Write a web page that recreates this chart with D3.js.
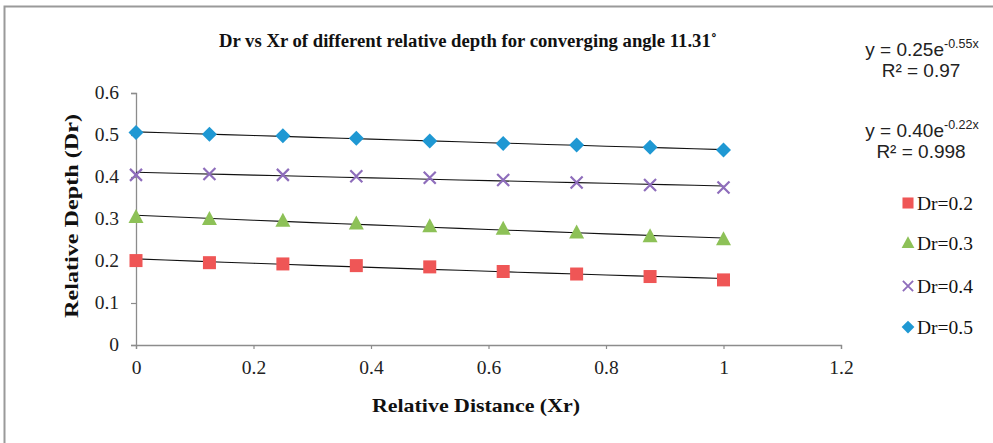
<!DOCTYPE html>
<html><head><meta charset="utf-8">
<script src="https://cdn.jsdelivr.net/npm/d3@7"></script>
<style>body{margin:0;background:#fff}svg{display:block}</style>
</head><body>
<script>
const xr = [0, 0.125, 0.25, 0.375, 0.5, 0.625, 0.75, 0.875, 1];
const dr02 = [0.201, 0.196, 0.193, 0.189, 0.186, 0.175, 0.169, 0.163, 0.155];
const dr03 = [0.305, 0.300, 0.296, 0.289, 0.283, 0.277, 0.268, 0.259, 0.252];
const dr04 = [0.405, 0.407, 0.405, 0.402, 0.398, 0.393, 0.387, 0.381, 0.375];
const dr05 = [0.506, 0.502, 0.498, 0.492, 0.486, 0.480, 0.476, 0.471, 0.464];
const seriesNames = ["Dr=0.2", "Dr=0.3", "Dr=0.4", "Dr=0.5"];
const xTicks = [0, 0.2, 0.4, 0.6, 0.8, 1, 1.2];
const yTicks = [0, 0.1, 0.2, 0.3, 0.4, 0.5, 0.6];
const eqLabels = [["0.25", "-0.55x", "0.97"], ["0.40", "-0.22x", "0.998"]];

const W = 993, H = 443;
const svg = d3.select("body").append("svg").attr("width", W).attr("height", H);
svg.append("rect").attr("x", 4.5).attr("y", 6.5).attr("width", W + 10).attr("height", H + 10)
  .attr("fill", "#fff").attr("stroke", "#9a9a9a").attr("stroke-width", 2);

const x = d3.scaleLinear().domain([0, 1.2]).range([136, 841]);
const y = d3.scaleLinear().domain([0, 0.6]).range([345, 93]);
const serif = "'Liberation Serif','Times New Roman',serif";
const sans = "'Liberation Sans',Arial,sans-serif";

// axes
const xAxis = svg.append("g").attr("transform", `translate(0,${y(0)})`)
  .call(d3.axisBottom(x).tickValues(xTicks).tickSize(4).tickFormat(d3.format("")));
const yAxis = svg.append("g").attr("transform", `translate(${x(0)},0)`)
  .call(d3.axisLeft(y).tickValues(yTicks).tickSize(5).tickFormat(d3.format("")));
[xAxis, yAxis].forEach(g => {
  g.select(".domain").attr("stroke", "#8c8c8c").attr("stroke-width", 1.3);
  g.selectAll(".tick line").attr("stroke", "#8c8c8c").attr("stroke-width", 1.2);
  g.selectAll(".tick text").attr("font-family", serif).attr("font-size", 19.5).attr("fill", "#222");
});
xAxis.selectAll(".tick text").attr("dy", "1.15em");
yAxis.selectAll(".tick text").attr("x", -17).attr("dy", "0.3em");

const series = [
  {name: seriesNames[0], vals: dr02, color: "#EF5656", shape: "square"},
  {name: seriesNames[1], vals: dr03, color: "#8DC157", shape: "triangle"},
  {name: seriesNames[2], vals: dr04, color: "#8E6DBB", shape: "x"},
  {name: seriesNames[3], vals: dr05, color: "#1F98D3", shape: "diamond"}
];

function drawMarker(g, shape, color) {
  if (shape === "square") g.append("rect").attr("x", -6.5).attr("y", -6.5).attr("width", 13).attr("height", 13).attr("fill", color);
  else if (shape === "triangle") g.append("path").attr("d", "M0,-8 L7.5,6 L-7.5,6 Z").attr("fill", color);
  else if (shape === "diamond") g.append("path").attr("d", "M0,-7.5 L7.5,0 L0,7.5 L-7.5,0 Z").attr("fill", color);
  else g.append("path").attr("d", "M-6,-6 L6,6 M-6,6 L6,-6").attr("stroke", color).attr("stroke-width", 2.2).attr("fill", "none");
}

// exponential trendline fit (least squares in log space)
function expFit(xs, ys) {
  const ly = ys.map(Math.log);
  const mx = d3.mean(xs), my = d3.mean(ly);
  let num = 0, den = 0;
  xs.forEach((xi, i) => { num += (xi - mx) * (ly[i] - my); den += (xi - mx) ** 2; });
  const b = num / den, a = Math.exp(my - b * mx);
  return t => a * Math.exp(b * t);
}

series.forEach(s => {
  const f = expFit(xr, s.vals);
  const pts = d3.range(0, 1.0001, 0.05).map(t => [t, f(t)]);
  svg.append("path").datum(pts)
    .attr("d", d3.line().x(d => x(d[0])).y(d => y(d[1])))
    .attr("fill", "none").attr("stroke", "#111").attr("stroke-width", 1.1);
});
series.forEach(s => {
  s.vals.forEach((v, i) => {
    const g = svg.append("g").attr("transform", `translate(${x(xr[i])},${y(v)})`);
    drawMarker(g, s.shape, s.color);
  });
});

// title
svg.append("text").attr("x", 468).attr("y", 47).attr("text-anchor", "middle")
  .attr("font-family", serif).attr("font-weight", "bold").attr("font-size", 18.5).attr("fill", "#111")
  .attr("textLength", 498).attr("lengthAdjust", "spacingAndGlyphs")
  .text("Dr vs Xr of different relative depth for converging angle 11.31˚");

// axis titles
svg.append("text").attr("x", 476).attr("y", 412).attr("text-anchor", "middle")
  .attr("font-family", serif).attr("font-weight", "bold").attr("font-size", 19.5).attr("fill", "#111")
  .attr("textLength", 208).attr("lengthAdjust", "spacingAndGlyphs")
  .text("Relative Distance (Xr)");
svg.append("text").attr("transform", "translate(78,216) rotate(-90)").attr("text-anchor", "middle")
  .attr("font-family", serif).attr("font-weight", "bold").attr("font-size", 19.5).attr("fill", "#111")
  .attr("textLength", 204).attr("lengthAdjust", "spacingAndGlyphs")
  .text("Relative Depth (Dr)");

// equations
const eqY = [56, 137];
eqLabels.forEach((e, i) => {
  const t = svg.append("text").attr("x", 922).attr("y", eqY[i]).attr("text-anchor", "middle")
    .attr("font-family", sans).attr("font-size", 19).attr("fill", "#222");
  t.append("tspan").text(`y = ${e[0]}e`);
  t.append("tspan").attr("font-size", 12.5).attr("dy", -8).text(e[1]);
  svg.append("text").attr("x", 921).attr("y", eqY[i] + 21).attr("text-anchor", "middle")
    .attr("font-family", sans).attr("font-size", 19).attr("fill", "#222")
    .text(`R² = ${e[2]}`);
});

// legend
const legY = [203, 243, 286, 327];
series.forEach((s, i) => {
  const g = svg.append("g").attr("transform", `translate(908,${legY[i]})`);
  const m = g.append("g").attr("transform", "scale(0.85)");
  drawMarker(m, s.shape, s.color);
  g.append("text").attr("x", 9).attr("y", 6.5).attr("font-family", serif).attr("font-size", 19.5)
    .attr("fill", "#111").text(s.name);
});
</script>
</body></html>
